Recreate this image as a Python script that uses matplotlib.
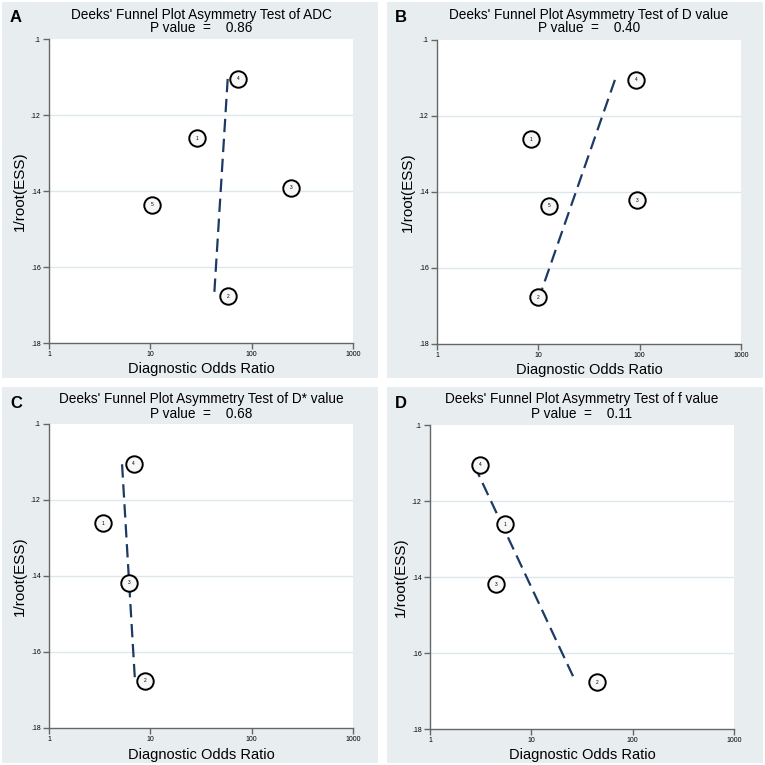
import matplotlib
matplotlib.use("Agg")
import matplotlib.pyplot as plt
from matplotlib.patches import Rectangle

plt.rcParams['font.family'] = ['Liberation Sans', 'DejaVu Sans']

# ---- data ----
panel_letters = ["A", "B", "C", "D"]
titles = ["Deeks' Funnel Plot Asymmetry Test of ADC",
          "Deeks' Funnel Plot Asymmetry Test of D value",
          "Deeks' Funnel Plot Asymmetry Test of D* value",
          "Deeks' Funnel Plot Asymmetry Test of f value"]
p_values = ["0.86", "0.40", "0.68", "0.11"]

A_labels = ["1", "2", "3", "4", "5"]
A_dor = [29.1, 58.9, 243, 73, 10.5]
A_ess = [0.1261, 0.1677, 0.1391, 0.1105, 0.1436]
A_line_dor = [58, 42.6]
A_line_ess = [0.1105, 0.1677]

B_labels = ["1", "2", "3", "4", "5"]
B_dor = [8.5, 9.9, 95, 92, 12.8]
B_ess = [0.1261, 0.1677, 0.1422, 0.1105, 0.1436]
B_line_dor = [57, 10.2]
B_line_ess = [0.1105, 0.1677]

C_labels = ["1", "2", "3", "4"]
C_dor = [3.44, 8.93, 6.21, 6.86]
C_ess = [0.1261, 0.1676, 0.1418, 0.1104]
C_line_dor = [5.26, 7.06]
C_line_ess = [0.1106, 0.1677]

D_labels = ["1", "2", "3", "4"]
D_dor = [5.50, 44.9, 4.52, 3.14]
D_ess = [0.1261, 0.1677, 0.1419, 0.1105]
D_line_dor = [2.72, 27.5]
D_line_ess = [0.1105, 0.1677]

yticks = [0.10, 0.12, 0.14, 0.16, 0.18]
ytick_labels = [".1", ".12", ".14", ".16", ".18"]
xticks = [1, 10, 100, 1000]
xtick_labels = ["1", "10", "100", "1000"]

panels = [
    (A_labels, A_dor, A_ess, A_line_dor, A_line_ess),
    (B_labels, B_dor, B_ess, B_line_dor, B_line_ess),
    (C_labels, C_dor, C_ess, C_line_dor, C_line_ess),
    (D_labels, D_dor, D_ess, D_line_dor, D_line_ess),
]

W = 765.0
fig = plt.figure(figsize=(7.65, 7.65), dpi=100)
fig.patch.set_facecolor("white")

bg = "#E8EEF0"
boxes = [(2, 2, 378, 378), (387, 2, 763, 378), (2, 387, 378, 763), (387, 387, 763, 763)]
areas = [(49, 39, 353, 343), (437, 40, 741, 344), (49, 424, 353, 728), (430, 425, 734, 729)]

def fx(px):
    return px / W

def fy(py):
    return 1 - py / W

for i, (labels, dor, ess, ldor, less) in enumerate(panels):
    l, t, r, b = boxes[i]
    fig.patches.append(Rectangle((fx(l), fy(b)), fx(r - l), (b - t) / W,
                                 transform=fig.transFigure, facecolor=bg,
                                 edgecolor="none", zorder=-5))
    al, at, ar, ab = areas[i]
    ax = fig.add_axes([fx(al), fy(ab), fx(ar - al), (ab - at) / W])
    ax.set_facecolor("white")
    ax.set_xscale("log")
    ax.set_xlim(1, 1000)
    ax.set_ylim(0.18, 0.10)
    for y in yticks[1:-1]:
        ax.axhline(y, color="#DCE7EB", lw=1.0, zorder=1)
    ax.plot(ldor, less, color="#1C3A64", lw=1.6, ls=(0, (6, 3)), zorder=2)
    ax.scatter(dor, ess, s=140, facecolor="#F7F7F7", edgecolor="black",
               linewidths=1.4, zorder=3)
    for lab, xv, yv in zip(labels, dor, ess):
        ax.text(xv, yv, lab, fontsize=3.5, ha="center", va="center", zorder=4)
    for s in ["top", "right"]:
        ax.spines[s].set_visible(False)
    for s in ["left", "bottom"]:
        ax.spines[s].set_color("#666666")
        ax.spines[s].set_linewidth(1.0)
    ax.set_yticks(yticks)
    ax.set_yticklabels(ytick_labels, fontsize=5)
    ax.set_xticks(xticks)
    ax.set_xticklabels(xtick_labels, fontsize=5)
    ax.xaxis.set_minor_locator(matplotlib.ticker.NullLocator())
    ax.tick_params(axis="both", which="major", length=4, color="#666666",
                   width=1.0, pad=2)
    ax.set_xlabel("Diagnostic Odds Ratio", fontsize=10.5, labelpad=3)
    ax.set_ylabel("1/root(ESS)", fontsize=11, labelpad=3)
    ax.set_axisbelow(True)

    cx = (al + ar) / 2
    fig.text(fx(cx), fy(t + 12.5), titles[i], fontsize=9.8, ha="center", va="center")
    fig.text(fx(cx), fy(t + 26.5), "P value  =    " + p_values[i], fontsize=9.8,
             ha="center", va="center")
    fig.text(fx(l + 8), fy(t + 16), panel_letters[i], fontsize=12,
             fontweight="bold", ha="left", va="center")

fig.savefig("out.png", dpi=100, facecolor="white")
